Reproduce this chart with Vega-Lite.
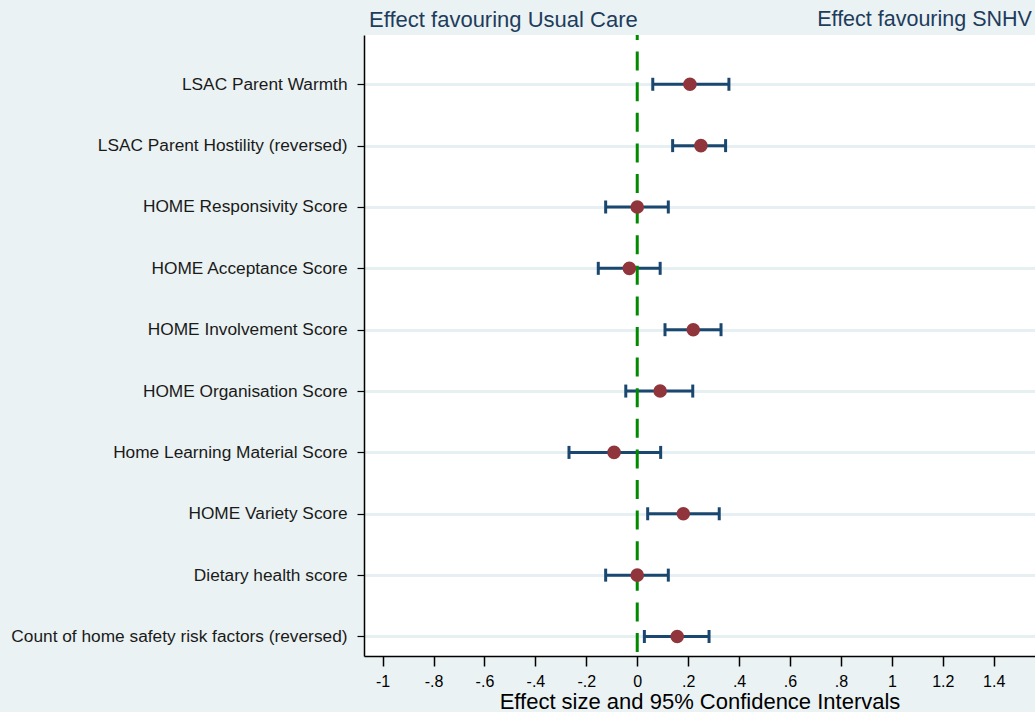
{
  "$schema": "https://vega.github.io/schema/vega-lite/v6.json",
  "width": 671,
  "height": 621,
  "autosize": {"type": "none"},
  "padding": {"left": 364, "top": 35, "right": 0, "bottom": 56},
  "background": "#eaf2f3",
  "data": {
    "values": [
      {"row": 1, "label": "LSAC Parent Warmth", "est": 0.207, "lo": 0.061, "hi": 0.36},
      {"row": 2, "label": "LSAC Parent Hostility (reversed)", "est": 0.25, "lo": 0.139, "hi": 0.347},
      {"row": 3, "label": "HOME Responsivity Score", "est": 0.0, "lo": -0.124, "hi": 0.122},
      {"row": 4, "label": "HOME Acceptance Score", "est": -0.031, "lo": -0.153, "hi": 0.09},
      {"row": 5, "label": "HOME Involvement Score", "est": 0.22, "lo": 0.109, "hi": 0.329},
      {"row": 6, "label": "HOME Organisation Score", "est": 0.09, "lo": -0.045, "hi": 0.218},
      {"row": 7, "label": "Home Learning Material Score", "est": -0.091, "lo": -0.268, "hi": 0.092},
      {"row": 8, "label": "HOME Variety Score", "est": 0.181, "lo": 0.041, "hi": 0.322},
      {"row": 9, "label": "Dietary health score", "est": 0.0, "lo": -0.124, "hi": 0.122},
      {"row": 10, "label": "Count of home safety risk factors (reversed)", "est": 0.157, "lo": 0.028, "hi": 0.282}
    ]
  },
  "layer": [
    {
      "mark": {"type": "rule", "color": "#1a476f", "strokeWidth": 3},
      "encoding": {
        "y": {
          "field": "row",
          "type": "quantitative",
          "scale": {"domain": [0.197, 10.318], "reverse": true, "nice": false, "zero": false},
          "axis": {
            "title": null,
            "values": [1, 2, 3, 4, 5, 6, 7, 8, 9, 10],
            "labelExpr": "['LSAC Parent Warmth','LSAC Parent Hostility (reversed)','HOME Responsivity Score','HOME Acceptance Score','HOME Involvement Score','HOME Organisation Score','Home Learning Material Score','HOME Variety Score','Dietary health score','Count of home safety risk factors (reversed)'][datum.value - 1]",
            "grid": true,
            "gridColor": "#e6eff1",
            "gridWidth": 3,
            "domain": true,
            "domainColor": "#000000",
            "domainWidth": 1.5,
            "ticks": true,
            "tickColor": "#000000",
            "tickSize": 7,
            "tickWidth": 1.2,
            "labelFont": "Liberation Sans",
            "labelFontSize": 17.3,
            "labelColor": "#1a1a1a",
            "labelPadding": 10,
            "labelLimit": 400,
            "labelBound": false,
            "labelOverlap": false
          }
        },
        "x": {
          "field": "lo",
          "type": "quantitative",
          "title": "Effect size and 95% Confidence Intervals",
          "scale": {"domain": [-1.073, 1.562], "nice": false, "zero": false},
          "axis": {
            "values": [-1, -0.8, -0.6, -0.4, -0.2, 0, 0.2, 0.4, 0.6, 0.8, 1, 1.2, 1.4],
            "labelExpr": "replace(replace(format(datum.value, '~g'), '\u2212', '-'), '0.', '.')",
            "grid": false,
            "domain": true,
            "domainColor": "#000000",
            "domainWidth": 1.5,
            "tickColor": "#000000",
            "tickSize": 10,
            "tickWidth": 1.5,
            "labelFont": "Liberation Sans",
            "labelFontSize": 16,
            "labelColor": "#000000",
            "labelPadding": 7,
            "labelOverlap": false,
            "labelFlush": false,
            "titleFont": "Liberation Sans",
            "titleFontSize": 22,
            "titleFontWeight": "normal",
            "titleColor": "#000000",
            "titlePadding": 2
          }
        },
        "x2": {"field": "hi"}
      }
    },
    {
      "mark": {"type": "tick", "orient": "vertical", "color": "#1a476f", "size": 13, "thickness": 3, "opacity": 1},
      "encoding": {
        "x": {"field": "lo", "type": "quantitative", "title": "Effect size and 95% Confidence Intervals"},
        "y": {"field": "row", "type": "quantitative"}
      }
    },
    {
      "mark": {"type": "tick", "orient": "vertical", "color": "#1a476f", "size": 13, "thickness": 3, "opacity": 1},
      "encoding": {
        "x": {"field": "hi", "type": "quantitative", "title": "Effect size and 95% Confidence Intervals"},
        "y": {"field": "row", "type": "quantitative"}
      }
    },
    {
      "data": {"values": [{"ref": 0}]},
      "mark": {"type": "rule", "color": "#008a00", "strokeWidth": 3, "strokeDash": [19, 11.6], "strokeDashOffset": 14},
      "encoding": {
        "x": {"field": "ref", "type": "quantitative", "title": "Effect size and 95% Confidence Intervals"}
      }
    },
    {
      "mark": {"type": "point", "shape": "circle", "filled": true, "color": "#90353b", "size": 185, "opacity": 1},
      "encoding": {
        "x": {"field": "est", "type": "quantitative", "title": "Effect size and 95% Confidence Intervals"},
        "y": {"field": "row", "type": "quantitative"}
      }
    },
    {
      "data": {"values": [{"note": "Effect favouring Usual Care", "nx": -1.053, "ny": -0.05}]},
      "mark": {"type": "text", "align": "left", "baseline": "middle", "font": "Liberation Sans", "fontSize": 22, "color": "#1e3c5c"},
      "encoding": {
        "x": {"field": "nx", "type": "quantitative", "title": "Effect size and 95% Confidence Intervals"},
        "y": {"field": "ny", "type": "quantitative"},
        "text": {"field": "note"}
      }
    },
    {
      "data": {"values": [{"note": "Effect favouring SNHV", "nx": 1.55, "ny": -0.05}]},
      "mark": {"type": "text", "align": "right", "baseline": "middle", "font": "Liberation Sans", "fontSize": 21.5, "color": "#1e3c5c"},
      "encoding": {
        "x": {"field": "nx", "type": "quantitative", "title": "Effect size and 95% Confidence Intervals"},
        "y": {"field": "ny", "type": "quantitative"},
        "text": {"field": "note"}
      }
    }
  ],
  "config": {
    "view": {"stroke": null, "fill": "#ffffff"},
    "font": "Liberation Sans"
  }
}
